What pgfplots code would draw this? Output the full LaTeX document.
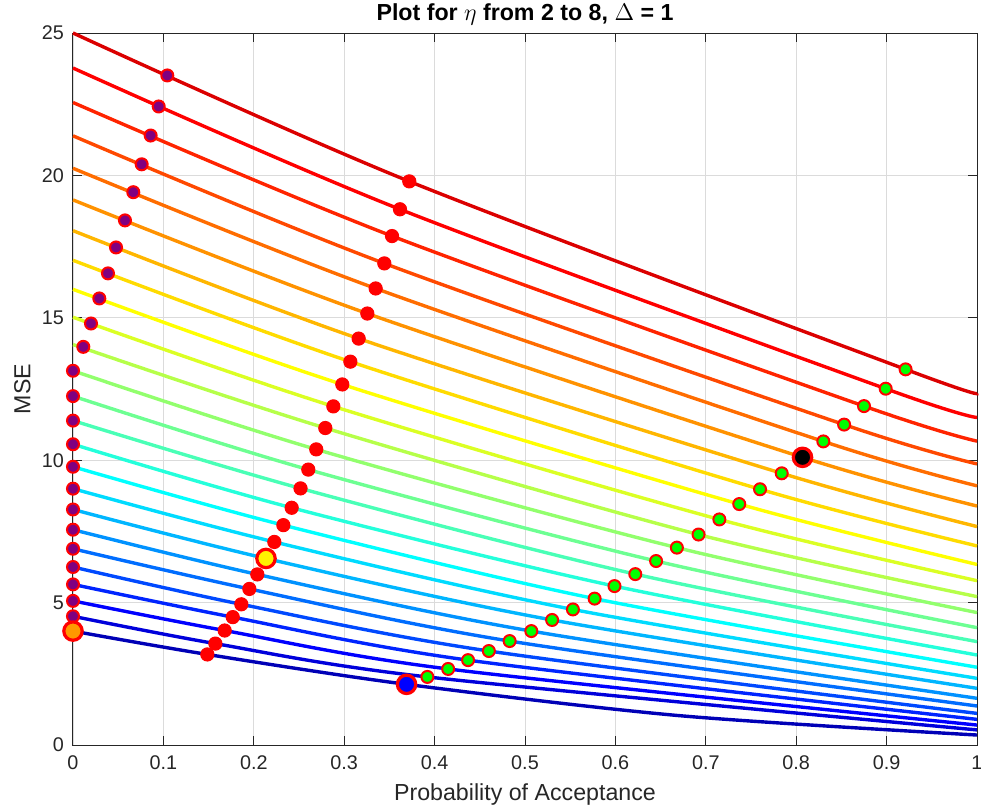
\documentclass[border=0pt]{standalone}
\usepackage{pgfplots}
\pgfplotsset{compat=1.18}
\usepackage{fontspec}
\setmainfont{Liberation Sans}

% jet(25), bottom line to top line
\definecolor{j1}{rgb}{0,0,0.714}
\definecolor{j2}{rgb}{0,0,0.857}
\definecolor{j3}{rgb}{0,0,1}
\definecolor{j4}{rgb}{0,0.143,1}
\definecolor{j5}{rgb}{0,0.286,1}
\definecolor{j6}{rgb}{0,0.429,1}
\definecolor{j7}{rgb}{0,0.571,1}
\definecolor{j8}{rgb}{0,0.714,1}
\definecolor{j9}{rgb}{0,0.857,1}
\definecolor{j10}{rgb}{0,1,1}
\definecolor{j11}{rgb}{0.143,1,0.857}
\definecolor{j12}{rgb}{0.286,1,0.714}
\definecolor{j13}{rgb}{0.429,1,0.571}
\definecolor{j14}{rgb}{0.571,1,0.429}
\definecolor{j15}{rgb}{0.714,1,0.286}
\definecolor{j16}{rgb}{0.857,1,0.143}
\definecolor{j17}{rgb}{1,1,0}
\definecolor{j18}{rgb}{1,0.857,0}
\definecolor{j19}{rgb}{1,0.714,0}
\definecolor{j20}{rgb}{1,0.571,0}
\definecolor{j21}{rgb}{1,0.429,0}
\definecolor{j22}{rgb}{1,0.286,0}
\definecolor{j23}{rgb}{1,0.143,0}
\definecolor{j24}{rgb}{1,0,0}
\definecolor{j25}{rgb}{0.857,0,0}
\definecolor{mpurple}{rgb}{0.5,0,0.5}
\definecolor{morange}{rgb}{1,0.6,0}

\begin{document}
\begin{tikzpicture}
\useasboundingbox (-36.5pt,-30pt) rectangle (454pt,372.5pt);
\begin{axis}[
    at={(0,0)}, anchor=south west,
    scale only axis, width=452pt, height=356pt,
    xmin=0, xmax=1, ymin=0, ymax=25,
    xtick={0,0.1,0.2,0.3,0.4,0.5,0.6,0.7,0.8,0.9,1},
    ytick={0,5,10,15,20,25},
    grid=major,
    major grid style={color=black!14, line width=0.4pt},
    tick align=inside, major tick length=4.5pt,
    axis line style={black!85, line width=0.5pt},
    tick style={black!85, line width=0.5pt},
    clip=false,
    /pgf/number format/assume math mode=true,
    tick label style={font=\fontsize{9.9}{11}\selectfont, color=black!85},
    xticklabel style={yshift=-2pt},
    yticklabel style={xshift=-1pt},
    xlabel={Probability of Acceptance},
    ylabel={MSE},
    xlabel style={font=\fontsize{11.6}{13}\selectfont, color=black!85,
        at={(axis description cs:0.5,-0.069)}, anchor=center},
    ylabel style={font=\fontsize{11.6}{13}\selectfont, color=black!85,
        at={(axis description cs:-0.056,0.5)}, anchor=center},
    curve/.style={line width=1.7pt, smooth, no markers},
]
% MSE curves, one per eta (bottom to top)
\addplot[j1, curve] coordinates {(0,4.00) (0.1486,3.18) (0.369,2.13) (0.671,1.03) (1,0.35)};
\addplot[j2, curve] coordinates {(0,4.52) (0.1575,3.56) (0.392,2.39) (1,0.53)};
\addplot[j3, curve] coordinates {(0,5.06) (0.1678,4.02) (0.415,2.67) (1,0.70)};
\addplot[j4, curve] coordinates {(0,5.64) (0.1767,4.49) (0.437,2.98) (1,0.90)};
\addplot[j5, curve] coordinates {(0,6.25) (0.1862,4.94) (0.460,3.30) (1,1.11)};
\addplot[j6, curve] coordinates {(0,6.89) (0.1951,5.48) (0.483,3.65) (1,1.37)};
\addplot[j7, curve] coordinates {(0,7.56) (0.2039,5.99) (0.507,4.00) (1,1.64)};
\addplot[j8, curve] coordinates {(0,8.27) (0.2135,6.55) (0.530,4.39) (1,1.99)};
\addplot[j9, curve] coordinates {(0,9.00) (0.2227,7.13) (0.553,4.76) (1,2.34)};
\addplot[j10, curve] coordinates {(0,9.77) (0.2327,7.72) (0.577,5.14) (1,2.73)};
\addplot[j11, curve] coordinates {(0,10.56) (0.2419,8.33) (0.599,5.58) (1,3.16)};
\addplot[j12, curve] coordinates {(0,11.39) (0.2517,9.01) (0.622,6.00) (1,3.63)};
\addplot[j13, curve] coordinates {(0,12.25) (0.2603,9.67) (0.645,6.46) (1,4.12)};
\addplot[j14, curve] coordinates {(0,13.14) (0.2691,10.38) (0.668,6.93) (1,4.65)};
\addplot[j15, curve] coordinates {(0,14.06) (0.2791,11.13) (0.692,7.39) (1,5.21)};
\addplot[j16, curve] coordinates {(0,15.02) (0.2880,11.89) (0.715,7.92) (1,5.77)};
\addplot[j17, curve] coordinates {(0,16.00) (0.2979,12.66) (0.737,8.46) (1,6.34)};
\addplot[j18, curve] coordinates {(0,17.02) (0.3068,13.46) (0.760,8.98) (1,6.99)};
\addplot[j19, curve] coordinates {(0,18.06) (0.3160,14.27) (0.784,9.54) (1,7.67)};
\addplot[j20, curve] coordinates {(0,19.14) (0.3256,15.15) (0.807,10.10) (1,8.39)};
\addplot[j21, curve] coordinates {(0,20.25) (0.3348,16.03) (0.830,10.66) (1,9.10)};
\addplot[j22, curve] coordinates {(0,21.39) (0.3444,16.91) (0.853,11.25) (1,9.87)};
\addplot[j23, curve] coordinates {(0,22.56) (0.3529,17.87) (0.875,11.90) (1,10.67)};
\addplot[j24, curve] coordinates {(0,23.77) (0.3617,18.81) (0.899,12.51) (1,11.50)};
\addplot[j25, curve] coordinates {(0,25.00) (0.3720,19.79) (0.921,13.19) (1,12.35)};

% left points: purple with red edge
\addplot[only marks, mark=*, mark size=3.0pt, line width=1pt,
    draw=red, fill=mpurple] coordinates {
    (0,4.52) (0,5.06) (0,5.64) (0,6.25) (0,6.89) (0,7.56) (0,8.27) (0,9.00)
    (0,9.77) (0,10.56) (0,11.39) (0,12.25) (0,13.14)
    (0.0114,13.98) (0.0199,14.80) (0.0291,15.68) (0.0387,16.56) (0.0476,17.47)
    (0.0575,18.42) (0.0667,19.41) (0.0760,20.39) (0.0859,21.40) (0.0948,22.42)
    (0.1043,23.51)};
% middle points: red
\addplot[only marks, mark=*, mark size=3.3pt, line width=0.5pt,
    draw=red, fill=red] coordinates {
    (0.1486,3.18) (0.1575,3.56) (0.1678,4.02) (0.1767,4.49) (0.1862,4.94)
    (0.1951,5.48) (0.2039,5.99) (0.2227,7.13) (0.2327,7.72)
    (0.2419,8.33) (0.2517,9.01) (0.2603,9.67) (0.2691,10.38) (0.2791,11.13)
    (0.2880,11.89) (0.2979,12.66) (0.3068,13.46) (0.3160,14.27) (0.3256,15.15)
    (0.3348,16.03) (0.3444,16.91) (0.3529,17.87) (0.3617,18.81) (0.3720,19.79)};
% right points: green with red edge
\addplot[only marks, mark=*, mark size=3.0pt, line width=1pt,
    draw=red, fill=green] coordinates {
    (0.392,2.39) (0.415,2.67) (0.437,2.98) (0.460,3.30) (0.483,3.65)
    (0.507,4.00) (0.530,4.39) (0.553,4.76) (0.577,5.14) (0.599,5.58)
    (0.622,6.00) (0.645,6.46) (0.668,6.93) (0.692,7.39) (0.715,7.92)
    (0.737,8.46) (0.760,8.98) (0.784,9.54) (0.830,10.66)
    (0.853,11.25) (0.875,11.90) (0.899,12.51) (0.921,13.19)};
% highlighted points
\addplot[only marks, mark=*, mark size=4.6pt, line width=1.6pt,
    draw=red, fill=morange] coordinates {(0,4.00)};
\addplot[only marks, mark=*, mark size=4.6pt, line width=1.6pt,
    draw=red, fill=yellow] coordinates {(0.2135,6.55)};
\addplot[only marks, mark=*, mark size=4.6pt, line width=1.6pt,
    draw=red, fill=blue] coordinates {(0.369,2.13)};
\addplot[only marks, mark=*, mark size=4.6pt, line width=1.6pt,
    draw=red, fill=black] coordinates {(0.807,10.10)};

\node[font=\fontsize{11.6}{13}\selectfont\bfseries, anchor=center]
    at (axis description cs:0.5,1.026) {Plot for $\eta$ from 2 to 8, $\Delta$ = 1};
\end{axis}
\end{tikzpicture}
\end{document}
